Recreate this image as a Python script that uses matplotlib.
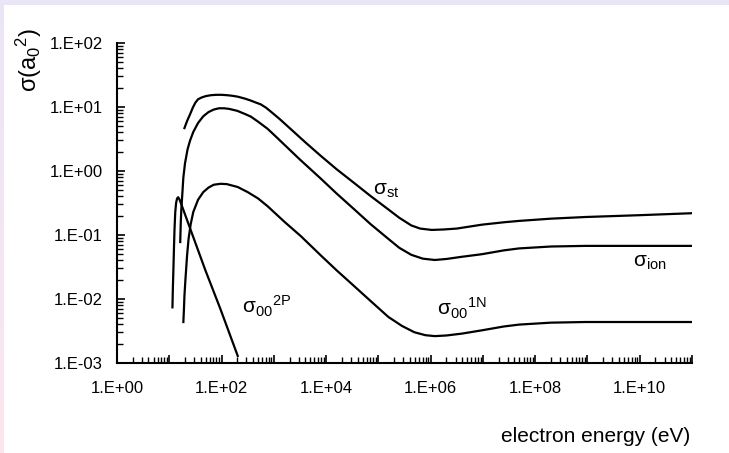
import matplotlib
matplotlib.use("Agg")
import matplotlib.pyplot as plt
from matplotlib.patches import Rectangle
from matplotlib.ticker import LogLocator, FuncFormatter, NullFormatter
import numpy as np

plt.rcParams['font.family'] = ['Liberation Sans', 'DejaVu Sans']

# Cross sections (a0^2) against electron energy (eV)
st_E = [19.5, 21.9, 25.1, 28.2, 31.6, 35.5, 41.7, 50.1, 63.1, 79.4,
        100, 126, 158, 204, 282, 363, 457, 562, 708, 871,
        1260, 2140, 3980, 7940, 15800, 34700, 70800, 155000, 251000, 427000,
        631000, 1.05e6, 1.78e6, 3.16e6, 9.55e6, 2.51e7, 4.9e7, 2.0e8, 9.12e8, 1e10,
        1e11]
st_s = [4.68, 6.03, 7.76, 9.77, 11.7, 13.2, 14.1, 14.8, 15.3, 15.5,
        15.5, 15.3, 15.0, 14.5, 13.5, 12.6, 11.7, 11.0, 9.77, 8.51,
        6.61, 4.47, 2.82, 1.72, 1.07, 0.646, 0.407, 0.251, 0.186, 0.141,
        0.126, 0.120, 0.122, 0.126, 0.145, 0.158, 0.166, 0.180, 0.191, 0.204,
        0.219]

ion_E = [16.2, 16.6, 17.0, 17.8, 18.6, 20.0, 22.4, 25.1, 28.8, 35.5,
         44.7, 56.2, 70.8, 89.1, 112, 141, 200, 282, 363, 501,
         759, 1120, 1550, 3160, 7940, 15800, 34700, 70800, 155000, 251000,
         427000, 708000, 1.2e6, 2.0e6, 3.98e6, 9.55e6, 2.51e7, 4.9e7, 2.0e8, 9.12e8,
         1e11]
ion_s = [0.0776, 0.158, 0.251, 0.447, 0.794, 1.32, 2.19, 3.02, 4.07, 5.62,
         7.16, 8.32, 9.12, 9.55, 9.55, 9.33, 8.71, 7.76, 7.08, 5.89,
         4.57, 3.39, 2.63, 1.51, 0.759, 0.447, 0.251, 0.148, 0.0871, 0.0631,
         0.049, 0.0427, 0.0407, 0.0422, 0.0457, 0.0501, 0.0575, 0.0617, 0.0661, 0.0676,
         0.0676]

n1_E = [18.6, 19.1, 19.5, 20.4, 21.9, 23.4, 25.7, 28.8, 35.5, 44.7,
        56.2, 70.8, 95.5, 126, 204, 316, 501, 759, 1580, 3310,
        7940, 15800, 34700, 70800, 155000, 282000, 490000, 794000, 1.2e6, 2.0e6,
        3.98e6, 9.55e6, 2.51e7, 4.9e7, 2.0e8, 9.12e8, 1e11]
n1_s = [0.00437, 0.00708, 0.0112, 0.0204, 0.0479, 0.0871, 0.148, 0.229, 0.355, 0.468,
        0.550, 0.610, 0.631, 0.624, 0.562, 0.468, 0.372, 0.282, 0.162, 0.0955,
        0.0479, 0.0282, 0.0158, 0.00933, 0.00525, 0.0038, 0.00302, 0.00272, 0.00263, 0.00269,
        0.00288, 0.00324, 0.00372, 0.00398, 0.00427, 0.00437, 0.00437]

p2_E = [11.5, 11.7, 12.0, 12.3, 12.6, 13.0, 13.5, 14.1, 14.8, 15.8, 17.0, 25.1, 49.0, 95.5, 204]
p2_s = [0.00741, 0.0141, 0.0295, 0.0631, 0.123, 0.224, 0.316, 0.372, 0.389, 0.355,
        0.302, 0.126, 0.0282, 0.00692, 0.00129]

W, H = 729, 453
fig = plt.figure(figsize=(W / 100, H / 100), dpi=100)

# lavender / pink frame on top and left edge
bg = fig.add_axes([0, 0, 1, 1])
grad = np.linspace(0, 1, 256)[:, None]
top_c = np.array([234, 229, 247]) / 255
bot_c = np.array([252, 230, 238]) / 255
img = top_c[None, None, :] * (1 - grad[:, :, None]) + bot_c[None, None, :] * grad[:, :, None]
bg.imshow(img, aspect='auto', extent=[0, 1, 0, 1])
bg.add_patch(Rectangle((4 / W, 0), 1, 1 - 5 / H, color='white', lw=0))
bg.set_xlim(0, 1)
bg.set_ylim(0, 1)
bg.axis('off')

ax = fig.add_axes([117 / W, 90 / H, 575 / W, 320 / H])
ax.set_facecolor('none')
ax.set_xscale('log')
ax.set_yscale('log')
ax.set_xlim(1, 1e11)
ax.set_ylim(1e-3, 1e2)

for E, s in [(st_E, st_s), (ion_E, ion_s), (n1_E, n1_s), (p2_E, p2_s)]:
    ax.plot(E, s, color='black', lw=1.6, solid_joinstyle='round')

for side in ['top', 'right']:
    ax.spines[side].set_visible(False)
for side in ['left', 'bottom']:
    ax.spines[side].set_linewidth(1.5)

def sci(v, pos):
    e = int(round(np.log10(v)))
    return '1.E{:+03d}'.format(e)

def sci_even(v, pos):
    e = int(round(np.log10(v)))
    return '1.E{:+03d}'.format(e) if e % 2 == 0 else ''

ax.xaxis.set_major_locator(LogLocator(base=10, numticks=20))
ax.xaxis.set_minor_locator(LogLocator(base=10, subs=np.arange(2, 10), numticks=20))
ax.xaxis.set_major_formatter(FuncFormatter(sci_even))
ax.xaxis.set_minor_formatter(NullFormatter())
ax.yaxis.set_major_locator(LogLocator(base=10, numticks=20))
ax.yaxis.set_minor_locator(LogLocator(base=10, subs=np.arange(2, 10), numticks=20))
ax.yaxis.set_major_formatter(FuncFormatter(sci))
ax.yaxis.set_minor_formatter(NullFormatter())

ax.tick_params(which='major', direction='in', length=6, width=1.2, labelsize=12)
ax.tick_params(which='minor', direction='in', length=4, width=1)
ax.tick_params(axis='x', which='major', pad=13)
ax.tick_params(axis='y', which='major', pad=10)

# curve labels
fs = 15
ax.text(7.9e4, 0.42, r'$\mathregular{σ_{st}}$', fontsize=fs, va='baseline')
ax.text(7.4e9, 0.032, r'$\mathregular{σ_{ion}}$', fontsize=fs, va='baseline')
ax.text(1.3e6, 0.0056, r'$\mathregular{σ_{00}{}^{1N}}$', fontsize=fs, va='baseline')
ax.text(250, 0.0059, r'$\mathregular{σ_{00}{}^{2P}}$', fontsize=fs, va='baseline')

fig.text(690 / W, 1 - 442 / H, 'electron energy (eV)', fontsize=15,
         ha='right', va='baseline')
fig.text(29 / W, 1 - 28 / H, r'$\mathregular{σ(a_0{}^2)}$', fontsize=17,
         rotation=90, ha='center', va='top')

fig.savefig('out.png', dpi=100)
